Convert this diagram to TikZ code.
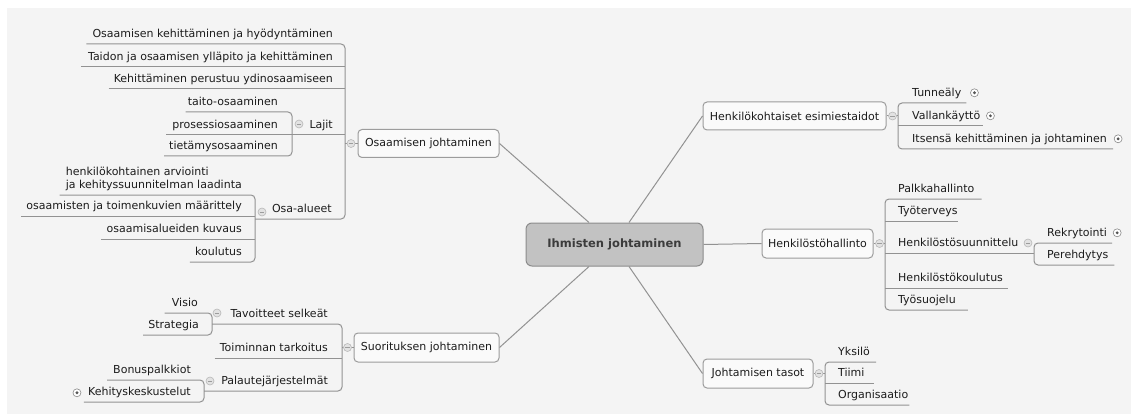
\documentclass[tikz,border=0pt]{standalone}
\usepackage{fontspec}
\setmainfont{DejaVu Sans}
\definecolor{bgc}{HTML}{F4F4F4}
\definecolor{lnc}{HTML}{929292}
\definecolor{bxc}{HTML}{9C9C9C}
\definecolor{txc}{HTML}{1C1C1C}
\definecolor{cfill}{HTML}{C2C2C2}
\definecolor{cdraw}{HTML}{8C8C8C}
\definecolor{ctext}{HTML}{3C3C3C}
\definecolor{icd}{HTML}{B8B8B8}
\definecolor{icf}{HTML}{E2E2E2}
\definecolor{icm}{HTML}{9C9C9C}
\definecolor{ipd}{HTML}{8A8A8A}
\definecolor{ipm}{HTML}{555555}
\tikzset{
  conn/.style={draw=lnc, line width=1pt},
  brk/.style={conn, rounded corners=4pt},
  topic/.style={draw=bxc, line width=1pt, fill=white!50!bgc, rounded corners=4pt,
    text=txc, font=\fontsize{11}{13}\selectfont, inner sep=0pt, minimum height=28pt},
  central/.style={draw=cdraw, fill=cfill, line width=1pt, rounded corners=6pt,
    text=ctext, font=\fontsize{11.5}{14}\selectfont\bfseries, inner sep=0pt,
    minimum width=177pt, minimum height=43pt},
  leaf/.style={inner sep=0pt, text=txc, font=\fontsize{11}{13}\selectfont,
    text height=8pt, text depth=6pt},
  minusicon/.style={circle, draw=icd, fill=icf, line width=0.6pt, minimum size=8pt, inner sep=0pt,
    path picture={\draw[draw=icm, line width=0.8pt]
      ([xshift=-2.2pt]path picture bounding box.center) -- ([xshift=2.2pt]path picture bounding box.center);}},
  plusicon/.style={circle, draw=ipd, fill=white, line width=0.6pt, minimum size=8pt, inner sep=0pt,
    path picture={\fill[ipm] (path picture bounding box.center) circle[radius=1.6pt];}}
}
\begin{document}
\begin{tikzpicture}[x=1pt,y=-1pt]
\useasboundingbox (0,0) rectangle (1131,414);
\fill[white] (0,0) rectangle (1131,414);
\fill[bgc] (7,8) rectangle (1131,414);

% bracket coordinates
\coordinate (vOJ) at (345,0);
\coordinate (vLa) at (292,0);
\coordinate (vOa) at (255,0);
\coordinate (vSJ) at (342,0);
\coordinate (vTa) at (212,0);
\coordinate (vPa) at (204,0);
\coordinate (vHE) at (898,0);
\coordinate (vHH) at (885,0);
\coordinate (vHs) at (1034,0);
\coordinate (vJT) at (825,0);

% main nodes
\node[central] (C) at (614.5,244.5) {Ihmisten johtaminen};
\node[topic, minimum width=141pt] (OJ) at (428.5,143.5) {Osaamisen johtaminen};
\node[topic, minimum width=145pt, minimum height=29pt] (SJ) at (426.5,347.5) {Suorituksen johtaminen};
\node[topic, minimum width=183pt] (HE) at (794.5,116) {Henkilökohtaiset esimiestaidot};
\node[topic, minimum width=111pt, minimum height=29pt] (HH) at (817.5,243.5) {Henkilöstöhallinto};
\node[topic, minimum width=110pt, minimum height=29pt] (JT) at (758,373.5) {Johtamisen tasot};

\draw[conn] ([xshift=-25.5pt]C.north) -- (OJ.east);
\draw[conn] ([xshift=14.5pt]C.north) -- (HE.west);
\draw[conn] (C.east) -- (HH.west);
\draw[conn] ([xshift=-25.5pt]C.south) -- (SJ.east);
\draw[conn] ([xshift=14.5pt]C.south) -- (JT.west);

% ---------- Osaamisen johtaminen ----------
\node[leaf, anchor=south east] (k1) at (333,44) {Osaamisen kehittäminen ja hyödyntäminen};
\node[leaf, anchor=south east] (k2) at (333,67) {Taidon ja osaamisen ylläpito ja kehittäminen};
\node[leaf, anchor=south east] (k3) at (333,89) {Kehittäminen perustuu ydinosaamiseen};
\node[leaf, anchor=south east] (la) at (333,135) {Lajit};
\node[leaf, anchor=south east] (oa) at (332,219) {Osa-alueet};

\node[leaf, anchor=south east] (t1) at (278,112) {taito-osaaminen};
\node[leaf, anchor=south east] (t2) at (278,135) {prosessiosaaminen};
\node[leaf, anchor=south east] (t3) at (278,156) {tietämysosaaminen};

\node[leaf, anchor=south east] (o1) at (242,195)
  {\vbox{\hbox{henkilökohtainen arviointi}\hbox{ja kehityssuunnitelman laadinta}}};
\node[leaf, anchor=south east] (o2) at (242,216) {osaamisten ja toimenkuvien määrittely};
\node[leaf, anchor=south east] (o3) at (242,239) {osaamisalueiden kuvaus};
\node[leaf, anchor=south east] (o4) at (242,262) {koulutus};

\draw[brk] ([xshift=-6pt]k1.south west) -- (k1.south -| vOJ) -- (oa.south -| vOJ) -- (oa.south -| vOa);
\draw[conn] ([xshift=-7pt]k2.south west) -- (k2.south -| vOJ);
\draw[conn] ([xshift=-5pt]k3.south west) -- (k3.south -| vOJ);
\draw[conn] (la.south -| vLa) -- (la.south -| vOJ);
\draw[conn] (OJ.west) -- (OJ.west -| vOJ);

\draw[brk] ([xshift=-2pt]t1.south west) -- (t1.south -| vLa) -- (t3.south -| vLa) -- ([xshift=-5pt]t3.south west);
\draw[conn] ([xshift=-6pt]t2.south west) -- (t2.south -| vLa);

\draw[brk] ([xshift=-6pt]o1.south west) -- (o1.south -| vOa) -- (o4.south -| vOa) -- ([xshift=-5pt]o4.south west);
\draw[conn] ([xshift=-5pt]o2.south west) -- (o2.south -| vOa);
\draw[conn] ([xshift=-5pt]o3.south west) -- (o3.south -| vOa);

% ---------- Suorituksen johtaminen ----------
\node[leaf, anchor=south east] (s1) at (328,324) {Tavoitteet selkeät};
\node[leaf, anchor=south east] (s2) at (328,358) {Toiminnan tarkoitus};
\node[leaf, anchor=south east] (s3) at (328,391) {Palautejärjestelmät};
\node[leaf, anchor=south east] (v1) at (198,313) {Visio};
\node[leaf, anchor=south east] (v2) at (199,335) {Strategia};
\node[leaf, anchor=south east] (b1) at (191,380) {Bonuspalkkiot};
\node[leaf, anchor=south east] (b2) at (191,402) {Kehityskeskustelut};

\draw[brk] (s1.south -| vTa) -- (s1.south -| vSJ) -- (s3.south -| vSJ) -- (s3.south -| vPa);
\draw[conn] ([xshift=-5pt]s2.south west) -- (s2.south -| vSJ);
\draw[conn] (SJ.west) -- (SJ.west -| vSJ);
\draw[brk] ([xshift=-7pt]v1.south west) -- (v1.south -| vTa) -- (v2.south -| vTa) -- ([xshift=-5pt]v2.south west);
\draw[brk] ([xshift=-6pt]b1.south west) -- (b1.south -| vPa) -- (b2.south -| vPa) -- ([xshift=-4pt]b2.south west);

% ---------- Henkilökohtaiset esimiestaidot ----------
\node[leaf, anchor=south west] (r1) at (912,103) {Tunneäly};
\node[leaf, anchor=south west] (r2) at (912,126) {Vallankäyttö};
\node[leaf, anchor=south west] (r3) at (912,149) {Itsensä kehittäminen ja johtaminen};
\draw[brk] ([xshift=5pt]r1.south east) -- (r1.south -| vHE) -- (r3.south -| vHE) -- ([xshift=6pt]r3.south east);
\draw[conn] (r2.south -| vHE) -- ([xshift=3pt]r2.south east);
\draw[conn] (HE.east) -- (HE.east -| vHE);

% ---------- Henkilöstöhallinto ----------
\node[leaf, anchor=south west] (h1) at (898,199) {Palkkahallinto};
\node[leaf, anchor=south west] (h2) at (898,221) {Työterveys};
\node[leaf, anchor=south west] (h3) at (898,253) {Henkilöstösuunnittelu};
\node[leaf, anchor=south west] (h4) at (898,288) {Henkilöstökoulutus};
\node[leaf, anchor=south west] (h5) at (898,310) {Työsuojelu};
\node[leaf, anchor=south west] (p1) at (1047,243) {Rekrytointi};
\node[leaf, anchor=south west] (p2) at (1047,265) {Perehdytys};
\draw[brk] ([xshift=7pt]h1.south east) -- (h1.south -| vHH) -- (h5.south -| vHH) -- ([xshift=12pt]h5.south east);
\draw[conn] (h2.south -| vHH) -- ([xshift=0pt]h2.south east);
\draw[conn] (h3.south -| vHH) -- (h3.south -| vHs);
\draw[conn] (h4.south -| vHH) -- ([xshift=5pt]h4.south east);
\draw[conn] (HH.east) -- (HH.east -| vHH);
\draw[brk] ([xshift=5pt]p1.south east) -- (p1.south -| vHs) -- (p2.south -| vHs) -- ([xshift=6pt]p2.south east);

% ---------- Johtamisen tasot ----------
\node[leaf, anchor=south west] (j1) at (838,362) {Yksilö};
\node[leaf, anchor=south west] (j2) at (838,383) {Tiimi};
\node[leaf, anchor=south west] (j3) at (838,405) {Organisaatio};
\draw[brk] ([xshift=6pt]j1.south east) -- (j1.south -| vJT) -- (j3.south -| vJT) -- ([xshift=1pt]j3.south east);
\draw[conn] (j2.south -| vJT) -- ([xshift=9pt]j2.south east);
\draw[conn] (JT.east) -- (JT.east -| vJT);

% ---------- icons ----------
\node[minusicon] (mOJ) at ([xshift=-6.5pt]OJ.west) {};
\node[minusicon] (mLa) at (299,124) {};
\node[minusicon] (mOa) at (262,212) {};
\node[minusicon] (mSJ) at ([xshift=-6pt]SJ.west) {};
\node[minusicon] (mTa) at (217,313) {};
\node[minusicon] (mPa) at (210,381) {};
\node[minusicon] (mHE) at ([xshift=6pt]HE.east) {};
\node[minusicon] (mHH) at ([xshift=6pt]HH.east) {};
\node[minusicon] (mHs) at (1028,243) {};
\node[minusicon] (mJT) at ([xshift=5.5pt]JT.east) {};
\node[plusicon] (pR1) at ([xshift=13pt,yshift=3pt]r1.east) {};
\node[plusicon] (pR2) at ([xshift=10pt,yshift=3pt]r2.east) {};
\node[plusicon] (pR3) at ([xshift=11pt,yshift=3pt]r3.east) {};
\node[plusicon] (pP1) at ([xshift=10pt,yshift=3pt]p1.east) {};
\node[plusicon] (pB2) at ([xshift=-11pt,yshift=2pt]b2.west) {};
\end{tikzpicture}
\end{document}
